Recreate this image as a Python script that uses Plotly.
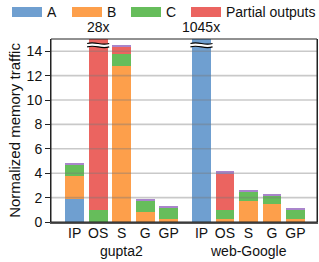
import plotly.graph_objects as go

# ---- data ----
groups = ["gupta2", "web-Google"]
methods = ["IP", "OS", "S", "G", "GP"]
series_names = ["A", "B", "C", "Partial outputs", "Other"]
A = [1.88, 0, 0, 0, 0, 1045, 0, 0, 0, 0]
B = [1.89, 0, 12.78, 0.79, 0.25, 0, 0.22, 1.70, 1.47, 0.22]
C = [0.96, 0.98, 1.01, 0.96, 0.95, 0, 0.74, 0.81, 0.69, 0.80]
P = [0, 27.02, 0.63, 0, 0, 0, 3.05, 0, 0.05, 0]
D = [0.10, 0, 0.05, 0.11, 0.09, 0, 0.14, 0.09, 0.08, 0.10]
colors = ["#6f9fd0", "#fd9f4b", "#66bd5b", "#eb6460", "#a985cb"]
ymax = 15
group_gap = 0.4

# bar positions
xpos = []
for g in range(len(groups)):
    for m in range(len(methods)):
        xpos.append(g * (len(methods) + group_gap) + m)
ticktext = methods * len(groups)
totals = [a + b + c + p + d for a, b, c, p, d in zip(A, B, C, P, D)]

fig = go.Figure()
for name, vals, col in zip(series_names, [A, B, C, P, D], colors):
    fig.add_trace(go.Bar(x=xpos, y=vals, name=name, marker_color=col,
                         marker_line_width=0, width=0.8, showlegend=False))

W, H = 319, 262
L, R, T, Bm = 51, 2, 39, 40
pw, ph = W - L - R, H - T - Bm
FS = 14

def px2x(p):
    return (p - L) / pw

def px2y(p):
    return 1 - (p - T) / ph

shapes = []
annotations = []

# gridlines above bars
for v in range(2, 15, 2):
    shapes.append(dict(type="line", xref="paper", yref="y", x0=0, x1=1, y0=v, y1=v,
                       line=dict(color="rgba(120,120,120,0.4)", width=1.6), layer="above"))

# break marks and labels for clipped bars
for xi, tot in zip(xpos, totals):
    if tot > ymax:
        x0, x1 = xi - 0.47, xi + 0.47
        w = x1 - x0
        a = 0.09
        yt, yb = 14.63, 14.35
        def curve(y, rev=False):
            if not rev:
                return f"C {x0 + w*0.4},{y + 2.4*a} {x0 + w*0.6},{y - 2.4*a} {x1},{y}"
            return f"C {x0 + w*0.6},{y - 2.4*a} {x0 + w*0.4},{y + 2.4*a} {x0},{y}"
        band = f"M {x0},{yt} " + curve(yt) + f" L {x1},{yb} " + curve(yb, True) + " Z"
        shapes.append(dict(type="path", xref="x", yref="y", path=band,
                           fillcolor="white", line=dict(width=0), layer="above"))
        for yy in (yt, yb):
            shapes.append(dict(type="path", xref="x", yref="y",
                               path=f"M {x0},{yy} " + curve(yy),
                               line=dict(color="black", width=1.2), layer="above"))
        annotations.append(dict(x=xi, y=1, xref="x", yref="paper", yanchor="bottom",
                                yshift=2, text=f"{tot:.0f}x", showarrow=False,
                                font=dict(size=FS, color="#111")))

# group labels
for g, gname in enumerate(groups):
    xc = g * (len(methods) + group_gap) + (len(methods) - 1) / 2
    annotations.append(dict(x=xc, y=px2y(251), xref="x", yref="paper", yanchor="middle",
                            text=gname, showarrow=False, font=dict(size=FS, color="#111")))

# manual legend
legend_items = [("A", 12), ("B", 72), ("C", 131), ("Partial outputs", 191)]
for (lab, lx), col in zip(legend_items, colors):
    shapes.append(dict(type="rect", xref="paper", yref="paper",
                       x0=px2x(lx), x1=px2x(lx + 30), y0=px2y(17), y1=px2y(7),
                       fillcolor=col, line=dict(width=0)))
    annotations.append(dict(x=px2x(lx + 33), y=px2y(12), xref="paper", yref="paper",
                            xanchor="left", yanchor="middle", text=lab, showarrow=False,
                            font=dict(size=FS, color="#111")))

# frame
shapes.append(dict(type="rect", xref="paper", yref="paper", x0=0, x1=1, y0=0, y1=1,
                   line=dict(color="#222", width=1), layer="above"))

fig.update_layout(
    barmode="stack",
    width=W, height=H,
    margin=dict(l=L, r=R, t=T, b=Bm),
    paper_bgcolor="white", plot_bgcolor="white",
    font=dict(family="Liberation Sans, Arial, sans-serif", size=FS, color="#111"),
    shapes=shapes, annotations=annotations,
    xaxis=dict(range=[-1.01, 10.32], tickvals=xpos, ticktext=ticktext, showgrid=False,
               ticks="", showline=True, linecolor="#555", linewidth=2, mirror=False,
               tickfont=dict(size=FS), zeroline=False, ticklabelstandoff=-3),
    yaxis=dict(range=[0, ymax], tickvals=list(range(0, 15, 2)), showgrid=False,
               ticks="outside", ticklen=5, tickcolor="#222", showline=True,
               linecolor="#222", linewidth=1, mirror=True, zeroline=False,
               title=dict(text="Normalized memory traffic", standoff=2,
                          font=dict(size=15)),
               tickfont=dict(size=FS)),
)

fig.write_html("out.html", config={"displayModeBar": False},
               post_script="document.body.style.margin='0px';")
